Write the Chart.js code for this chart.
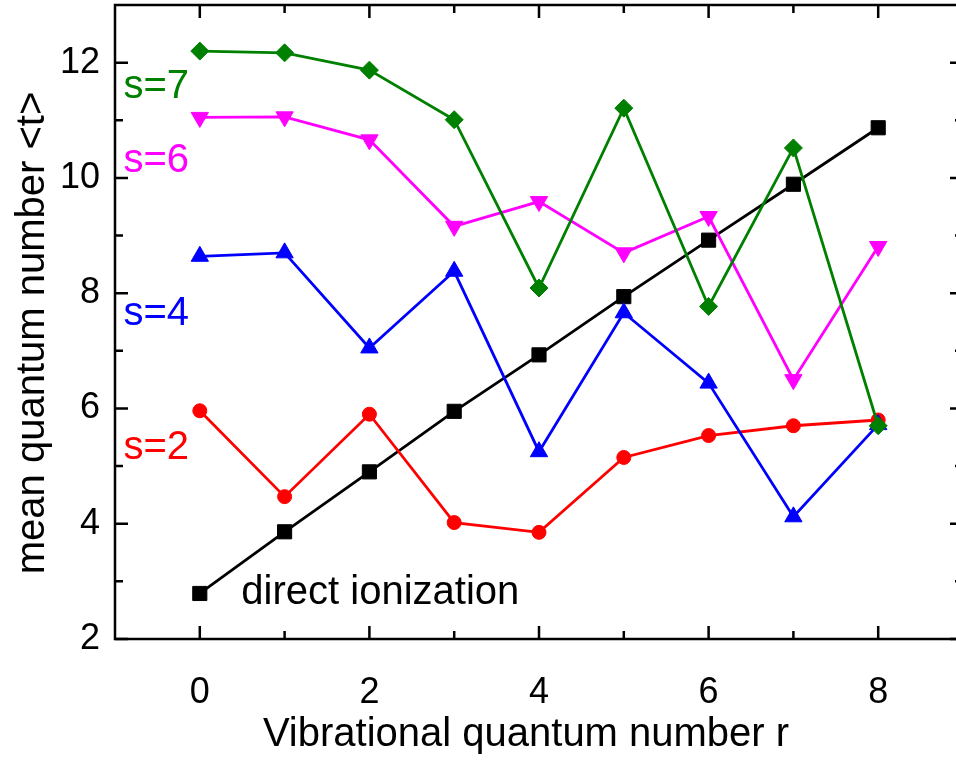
<!DOCTYPE html>
<html lang="en">
<head>
<meta charset="UTF-8">
<title>mean quantum number vs r</title>
<script src="https://cdn.jsdelivr.net/npm/chart.js"></script>
<style>
  html, body { margin: 0; padding: 0; background: #fff; overflow: hidden; }
  /* wider than the window: the right frame edge (r = 9) falls just outside, as in the figure */
  .wrap { width: 970px; height: 761px; position: relative; }
</style>
</head>
<body>
<div class="wrap"><canvas id="chart"></canvas></div>
<script>
// data
const rValues = [0, 1, 2, 3, 4, 5, 6, 7, 8];
const directIon = [2.79, 3.86, 4.90, 5.95, 6.93, 7.94, 8.92, 9.89, 10.87];
const s2 = [5.96, 4.47, 5.90, 4.02, 3.85, 5.15, 5.53, 5.70, 5.80];
const s4 = [8.64, 8.70, 7.05, 8.38, 5.25, 7.66, 6.44, 4.12, 5.72];
const s6 = [11.05, 11.06, 10.66, 9.16, 9.59, 8.70, 9.33, 6.50, 8.81];
const s7 = [12.20, 12.17, 11.87, 11.01, 8.09, 11.21, 7.77, 10.52, 5.70];

const xMajor = [0, 2, 4, 6, 8];
const xMinor = [1, 3, 5, 7];
const yMajor = [2, 4, 6, 8, 10, 12];
const yMinor = [3, 5, 7, 9, 11];

const xTitle = 'Vibrational quantum number r';
const yTitle = 'mean quantum number <t>';

const FONT = "'Liberation Sans', Arial, sans-serif";

// curve labels, placed in data units
const curveLabels = [
  { text: 's=7', x: -0.9, y: 11.57, color: '#008000' },
  { text: 's=6', x: -0.9, y: 10.30, color: '#ff00ff' },
  { text: 's=4', x: -0.9, y: 7.64, color: '#0000ff' },
  { text: 's=2', x: -0.9, y: 5.32, color: '#ff0000' },
  { text: 'direct ionization', x: 0.49, y: 2.80, color: '#000000' }
];

function pts(ys) { return ys.map((y, i) => ({ x: rValues[i], y: y })); }

function series(label, ys, color, style, radius, rot) {
  return {
    label: label,
    data: pts(ys),
    borderColor: color,
    backgroundColor: color,
    borderWidth: 2.8,
    pointStyle: style,
    pointRadius: radius,
    pointHoverRadius: radius,
    pointBorderWidth: 1,
    pointRotation: rot || 0,
    tension: 0,
    clip: false
  };
}

const frame = {
  id: 'frame',
  afterDraw(chart) {
    const { ctx, chartArea: a, scales: { x, y } } = chart;
    ctx.save();
    ctx.strokeStyle = '#000';
    ctx.lineWidth = 2.5;
    ctx.strokeRect(a.left, a.top, a.right - a.left, a.bottom - a.top);
    const tick = (px, len, vertical) => {
      ctx.beginPath();
      if (vertical) {
        ctx.moveTo(px, a.bottom); ctx.lineTo(px, a.bottom - len);
        ctx.moveTo(px, a.top); ctx.lineTo(px, a.top + len);
      } else {
        ctx.moveTo(a.left, px); ctx.lineTo(a.left + len, px);
        ctx.moveTo(a.right, px); ctx.lineTo(a.right - len, px);
      }
      ctx.stroke();
    };
    xMajor.forEach(v => tick(x.getPixelForValue(v), 13, true));
    xMinor.forEach(v => tick(x.getPixelForValue(v), 8, true));
    yMajor.forEach(v => tick(y.getPixelForValue(v), 13, false));
    yMinor.forEach(v => tick(y.getPixelForValue(v), 8, false));

    ctx.font = '40px ' + FONT;
    ctx.textBaseline = 'middle';
    ctx.textAlign = 'left';
    curveLabels.forEach(l => {
      ctx.fillStyle = l.color;
      ctx.fillText(l.text, x.getPixelForValue(l.x), y.getPixelForValue(l.y));
    });

    // axis titles
    ctx.fillStyle = '#000';
    ctx.textAlign = 'center';
    ctx.fillText(xTitle, 526, 735);
    ctx.translate(33, 333);
    ctx.rotate(-Math.PI / 2);
    ctx.fillText(yTitle, 0, 0);
    ctx.restore();
  }
};

new Chart(document.getElementById('chart'), {
  type: 'line',
  data: {
    datasets: [
      series('s=7', s7, '#008000', 'rectRot', 9),
      series('s=6', s6, '#ff00ff', 'triangle', 10, 180),
      series('s=4', s4, '#0000ff', 'triangle', 10),
      series('s=2', s2, '#ff0000', 'circle', 7),
      series('direct ionization', directIon, '#000000', 'rect', 10)
    ]
  },
  options: {
    responsive: true,
    maintainAspectRatio: false,
    animation: false,
    layout: { autoPadding: false, padding: { top: 5, right: 7, left: 0, bottom: 0 } },
    plugins: { legend: { display: false }, tooltip: { enabled: false } },
    scales: {
      x: {
        type: 'linear',
        min: -1, max: 9,
        grid: { display: false, drawTicks: false },
        border: { display: false },
        afterBuildTicks: s => { s.ticks = xMajor.map(v => ({ value: v })); },
        afterFit: s => { s.height = 122; s.paddingLeft = 0; s.paddingRight = 0; },
        ticks: { color: '#000', padding: 32, font: { family: FONT, size: 36 } }
      },
      y: {
        type: 'linear',
        min: 2, max: 13,
        grid: { display: false, drawTicks: false },
        border: { display: false },
        afterBuildTicks: s => { s.ticks = yMajor.map(v => ({ value: v })); },
        afterFit: s => { s.width = 115; s.paddingTop = 0; s.paddingBottom = 0; },
        ticks: { color: '#000', padding: 15, font: { family: FONT, size: 36 } }
      }
    }
  },
  plugins: [frame]
});
</script>
</body>
</html>
